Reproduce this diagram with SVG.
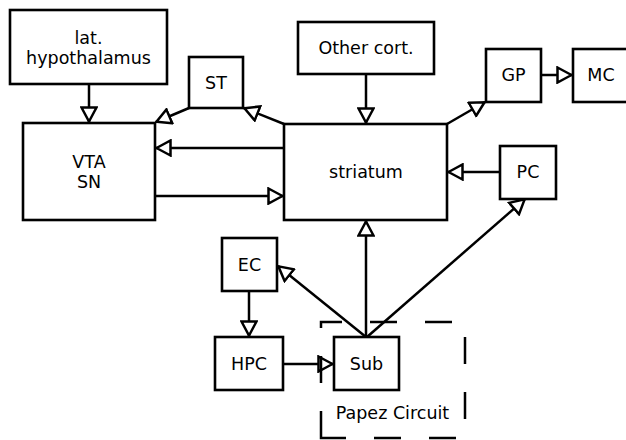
<svg xmlns="http://www.w3.org/2000/svg" width="626" height="440" viewBox="0 0 626 440">
<defs>
<style>
.box{fill:#fff;stroke:#000;stroke-width:2.6}
.lbl{font-family:"DejaVu Sans",sans-serif;font-size:17.5px;text-anchor:middle;fill:#000}
.edge{fill:none;stroke:#000;stroke-width:2.5;marker-end:url(#tri)}
</style>
<marker id="tri" viewBox="0 0 17 18" markerWidth="17" markerHeight="18" refX="16" refY="9" orient="auto" markerUnits="userSpaceOnUse">
<path d="M1.5,1.5 L15.5,9 L1.5,16.5 z" fill="#fff" stroke="#000" stroke-width="2.5"/>
</marker>
</defs>
<rect width="626" height="440" fill="#fff"/>
<g id="connectors">
<path class="edge" d="M89,84 L89,122"/>
<path class="edge" d="M189,108 L156,122"/>
<path class="edge" d="M284,124 L244,108"/>
<path class="edge" d="M284,148 L156,148"/>
<path class="edge" d="M155,196 L283,196"/>
<path class="edge" d="M366,74 L366,123"/>
<path class="edge" d="M447,124 L485,102"/>
<path class="edge" d="M541,75 L572,75"/>
<path class="edge" d="M500,172 L448,172"/>
<path class="edge" d="M366,337 L366,221"/>
<path class="edge" d="M366,337 L278,266"/>
<path class="edge" d="M367,337 L525,199"/>
<path class="edge" d="M249,291 L249,336"/>
<path class="edge" d="M283,364 L333,364"/>
</g>
<g id="lat-hypothalamus"><rect class="box" x="10" y="10" width="157" height="74"/><text class="lbl" x="88.5" y="44">lat.</text><text class="lbl" x="88.5" y="64">hypothalamus</text></g>
<g id="vta-sn"><rect class="box" x="23" y="123" width="132" height="97"/><text class="lbl" x="89" y="168">VTA</text><text class="lbl" x="89" y="188">SN</text></g>
<g id="st"><rect class="box" x="189" y="57" width="54" height="51"/><text class="lbl" x="216" y="89">ST</text></g>
<g id="other-cort"><rect class="box" x="298" y="22" width="136" height="52"/><text class="lbl" x="366" y="54">Other cort.</text></g>
<g id="striatum"><rect class="box" x="284" y="124" width="163" height="96"/><text class="lbl" x="366" y="178">striatum</text></g>
<g id="gp"><rect class="box" x="486" y="49" width="55" height="53"/><text class="lbl" x="513.5" y="81">GP</text></g>
<g id="mc"><rect class="box" x="573" y="49" width="55" height="53"/><text class="lbl" x="601" y="81">MC</text></g>
<g id="pc"><rect class="box" x="500" y="146" width="56" height="53"/><text class="lbl" x="528" y="178">PC</text></g>
<g id="ec"><rect class="box" x="222" y="238" width="55" height="53"/><text class="lbl" x="249.5" y="271">EC</text></g>
<g id="hpc"><rect class="box" x="215" y="337" width="68" height="53"/><text class="lbl" x="249" y="370">HPC</text></g>
<g id="sub"><rect class="box" x="334" y="337" width="65" height="53"/><text class="lbl" x="366.5" y="370">Sub</text></g>
<g id="papez-circuit"><path d="M321,438 L321,322 L465,322 L465,438 Z" fill="none" stroke="#000" stroke-width="2.5" stroke-dasharray="27,28"/><text class="lbl" x="392.5" y="419">Papez Circuit</text></g>
</svg>
